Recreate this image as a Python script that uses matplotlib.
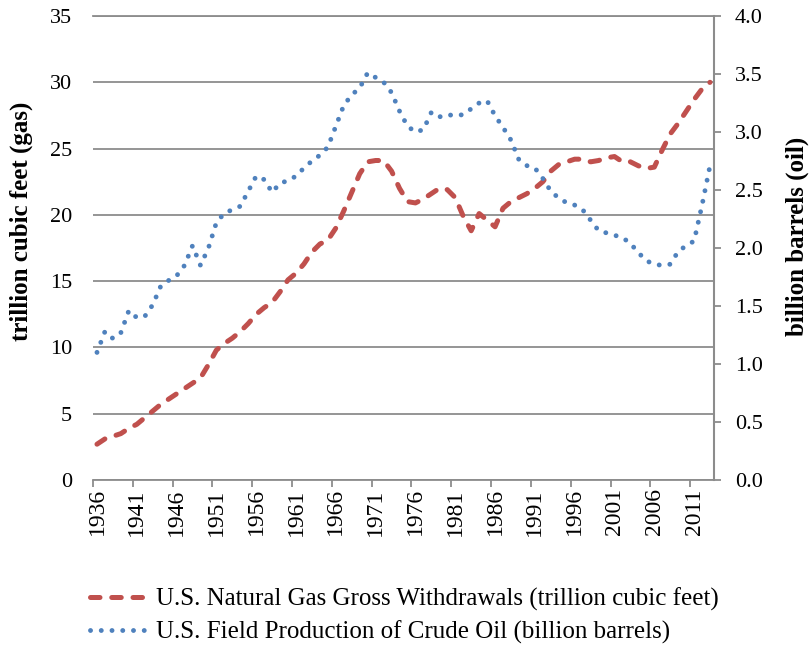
import numpy as np
import matplotlib.pyplot as plt
from matplotlib.ticker import MultipleLocator, FixedLocator

# U.S. natural gas withdrawals and crude oil production, 1936-2013
years = list(range(1936, 2014))

gas = [2.7, 3.1, 3.3, 3.5, 3.9, 4.2, 4.7, 5.2, 5.7, 6.1,
       6.5, 6.9, 7.3, 7.7, 8.7, 9.8, 10.3, 10.7, 11.2, 11.8,
       12.5, 13.0, 13.4, 14.2, 15.1, 15.6, 16.3, 17.2, 17.8, 18.1,
       19.0, 20.3, 21.7, 23.1, 24.0, 24.1, 24.1, 23.3, 22.0, 21.0,
       20.9, 21.2, 21.6, 22.0, 21.9, 21.3, 19.9, 18.8, 20.1, 19.6,
       19.1, 20.5, 21.0, 21.3, 21.6, 22.0, 22.5, 23.3, 23.8, 24.0,
       24.2, 24.2, 24.0, 24.1, 24.3, 24.4, 24.0, 24.0, 23.7, 23.5,
       23.6, 24.9, 26.1, 26.9, 27.8, 28.7, 29.5, 30.0]

oil = [1.10, 1.28, 1.22, 1.27, 1.46, 1.40, 1.41, 1.51, 1.67, 1.72,
       1.76, 1.85, 2.02, 1.85, 2.00, 2.22, 2.30, 2.33, 2.36, 2.49,
       2.62, 2.59, 2.48, 2.56, 2.58, 2.62, 2.69, 2.75, 2.80, 2.87,
       3.05, 3.23, 3.32, 3.38, 3.51, 3.47, 3.43, 3.34, 3.18, 3.05,
       3.00, 3.02, 3.17, 3.13, 3.15, 3.14, 3.15, 3.20, 3.25, 3.27,
       3.14, 3.04, 2.93, 2.76, 2.71, 2.69, 2.60, 2.49, 2.43, 2.39,
       2.37, 2.33, 2.24, 2.15, 2.13, 2.11, 2.09, 2.04, 1.96, 1.89,
       1.86, 1.85, 1.86, 1.97, 2.02, 2.06, 2.37, 2.71]

gas_label = 'U.S. Natural Gas Gross Withdrawals (trillion cubic feet)'
oil_label = 'U.S. Field Production of Crude Oil (billion barrels)'

red = '#C0504D'
blue = '#4F81BD'
grey = '#8C8C8C'
serif = 'Liberation Serif'

fig = plt.figure(figsize=(8.11, 6.53), dpi=100)
ax = fig.add_axes([93/811, 1-480/653, 621/811, 464/653])
ax2 = ax.twinx()

l1, = ax.plot(years, gas, color=red, lw=3.6, linestyle=(0, (1.9, 2.35)),
              dash_capstyle='round', label=gas_label)
l2, = ax2.plot(years, oil, color=blue, lw=3.5, linestyle=(0, (0.01, 2.2)),
               dash_capstyle='round', label=oil_label)

ax.set_xlim(1935.5, 2013.5)
ax.set_ylim(0, 35)
ax2.set_ylim(0, 4.0)

# gridlines from the gas axis
ax.yaxis.set_major_locator(MultipleLocator(5))
ax.yaxis.grid(True, color=grey, lw=1.3)
ax.set_axisbelow(True)
ax2.yaxis.set_major_locator(MultipleLocator(0.5))
ax2.yaxis.set_major_formatter(lambda v, p: f'{v:.1f}')

for a in (ax, ax2):
    for s in a.spines.values():
        s.set_visible(False)
ax.spines['bottom'].set_visible(True)
ax.spines['bottom'].set_color(grey)
ax.spines['bottom'].set_linewidth(1.3)
ax.spines['top'].set_visible(True)
ax.spines['top'].set_color(grey)
ax.spines['top'].set_linewidth(1.3)
ax2.spines['right'].set_visible(True)
ax2.spines['right'].set_color(grey)
ax2.spines['right'].set_linewidth(1.5)

# category axis: labels every 5 years, tick marks between categories
ax.xaxis.set_major_locator(FixedLocator(years[::5]))
ax.xaxis.set_minor_locator(FixedLocator([y - 0.5 for y in years[::5]]))
ax.tick_params(axis='x', which='major', length=0, pad=6, labelrotation=90,
               labelsize=17)
ax.tick_params(axis='x', which='minor', length=5, width=1.3, color=grey)
ax.tick_params(axis='y', length=0, pad=15, labelsize=16)
ax2.tick_params(axis='y', length=5, width=1.3, color=grey, pad=10, labelsize=16)
for lab in ax.get_xticklabels() + ax.get_yticklabels() + ax2.get_yticklabels():
    lab.set_family(serif)

fig.text(21/811, 1-221/653, 'trillion cubic feet (gas)', rotation=90,
         ha='center', va='center', fontsize=18, fontweight='bold', family=serif)
fig.text(797/811, 1-236/653, 'billion barrels (oil)', rotation=90,
         ha='center', va='center', fontsize=18, fontweight='bold', family=serif)

fig.legend(handles=[l1, l2], loc='center left', bbox_to_anchor=(90/811, 1-616/653),
           frameon=False, borderpad=0, borderaxespad=0,
           handlelength=2.4, handletextpad=0.25, labelspacing=0.4,
           prop={'family': serif, 'size': 18})

plt.savefig('out.png', dpi=100)
